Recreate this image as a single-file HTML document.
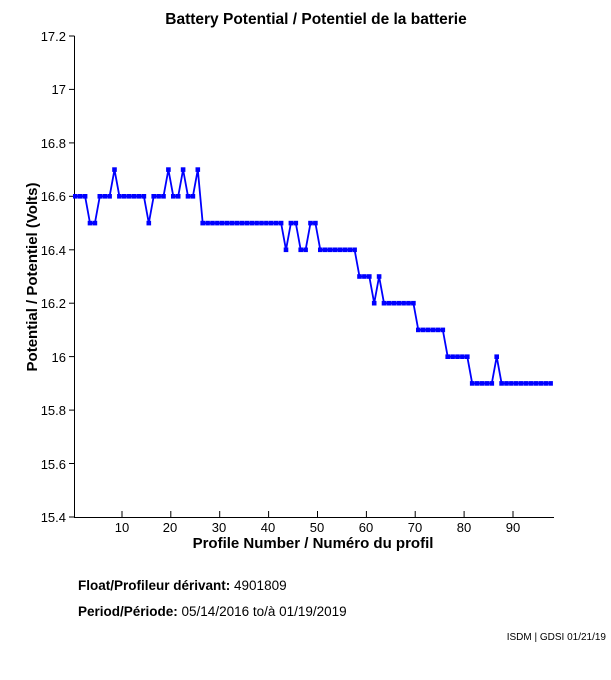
<!DOCTYPE html>
<html><head><meta charset="utf-8"><style>
body{margin:0;background:#fff;width:611px;height:675px;overflow:hidden}
svg text{font-family:"Liberation Sans",sans-serif}
</style></head><body>
<svg id="s" width="611" height="675" xmlns="http://www.w3.org/2000/svg">
<text x="316" y="24" font-size="15.5" font-weight="bold" text-anchor="middle">Battery Potential / Potentiel de la batterie</text>
<g stroke="#000" stroke-width="1" fill="none">
<line x1="74.5" y1="36" x2="74.5" y2="517.5"/>
<line x1="74" y1="517.5" x2="554" y2="517.5"/>
</g>
<g id="ticks" stroke="#000" stroke-width="1"></g>
<g font-size="13" text-anchor="end">
<text x="66" y="41">17.2</text>
<text x="66" y="94">17</text>
<text x="66" y="148">16.8</text>
<text x="66" y="201">16.6</text>
<text x="66" y="255">16.4</text>
<text x="66" y="308">16.2</text>
<text x="66" y="362">16</text>
<text x="66" y="415">15.8</text>
<text x="66" y="469">15.6</text>
<text x="66" y="522">15.4</text>
</g>
<g font-size="13" text-anchor="middle">
<text x="122" y="532">10</text>
<text x="170" y="532">20</text>
<text x="219" y="532">30</text>
<text x="268" y="532">40</text>
<text x="317" y="532">50</text>
<text x="366" y="532">60</text>
<text x="415" y="532">70</text>
<text x="464" y="532">80</text>
<text x="513" y="532">90</text>
</g>
<text x="313" y="548" font-size="15" font-weight="bold" text-anchor="middle">Profile Number / Numéro du profil</text>
<text transform="translate(37,277) rotate(-90)" font-size="15" font-weight="bold" text-anchor="middle">Potential / Potentiel (Volts)</text>
<text x="78" y="590" font-size="13.5"><tspan font-weight="bold">Float/Profileur dérivant:</tspan> 4901809</text>
<text x="78" y="616" font-size="13.5"><tspan font-weight="bold">Period/Période:</tspan> 05/14/2016 to/à 01/19/2019</text>
<text x="606" y="640" font-size="10" text-anchor="end">ISDM | GDSI 01/21/19</text>
<polyline id="pl" fill="none" stroke="#0000ff" stroke-width="1.8"/>
<g id="mk" fill="#0000ff"></g>
</svg>
<script>
var runs=[[16.6,3],[16.5,2],[16.6,3],[16.7,1],[16.6,6],[16.5,1],[16.6,3],[16.7,1],[16.6,2],[16.7,1],[16.6,2],[16.7,1],[16.5,17],[16.4,1],[16.5,2],[16.4,2],[16.5,2],[16.4,8],[16.3,3],[16.2,1],[16.3,1],[16.2,7],[16.1,6],[16.0,5],[15.9,5],[16.0,1],[15.9,11]];
var v=[];runs.forEach(function(r){for(var k=0;k<r[1];k++)v.push(r[0]);});
var pts=[],mk='';
v.forEach(function(val,i){var x=75.3+4.9*i,y=517-(val-15.4)/1.8*481;pts.push(x.toFixed(1)+','+y.toFixed(1));mk+='<rect x="'+(x-2.3).toFixed(1)+'" y="'+(y-2.3).toFixed(1)+'" width="4.6" height="4.6"/>';});
document.getElementById('pl').setAttribute('points',pts.join(' '));
document.getElementById('mk').innerHTML=mk;
var t='';
for(var j=0;j<10;j++){var y=36+j*53.44;t+='<line x1="69" y1="'+y.toFixed(1)+'" x2="74.5" y2="'+y.toFixed(1)+'"/>';}
for(var p=10;p<=90;p+=10){var x=73.1+4.8875*p;t+='<line x1="'+x.toFixed(1)+'" y1="517" x2="'+x.toFixed(1)+'" y2="511"/>';}
document.getElementById('ticks').innerHTML=t;
</script>
</body></html>
